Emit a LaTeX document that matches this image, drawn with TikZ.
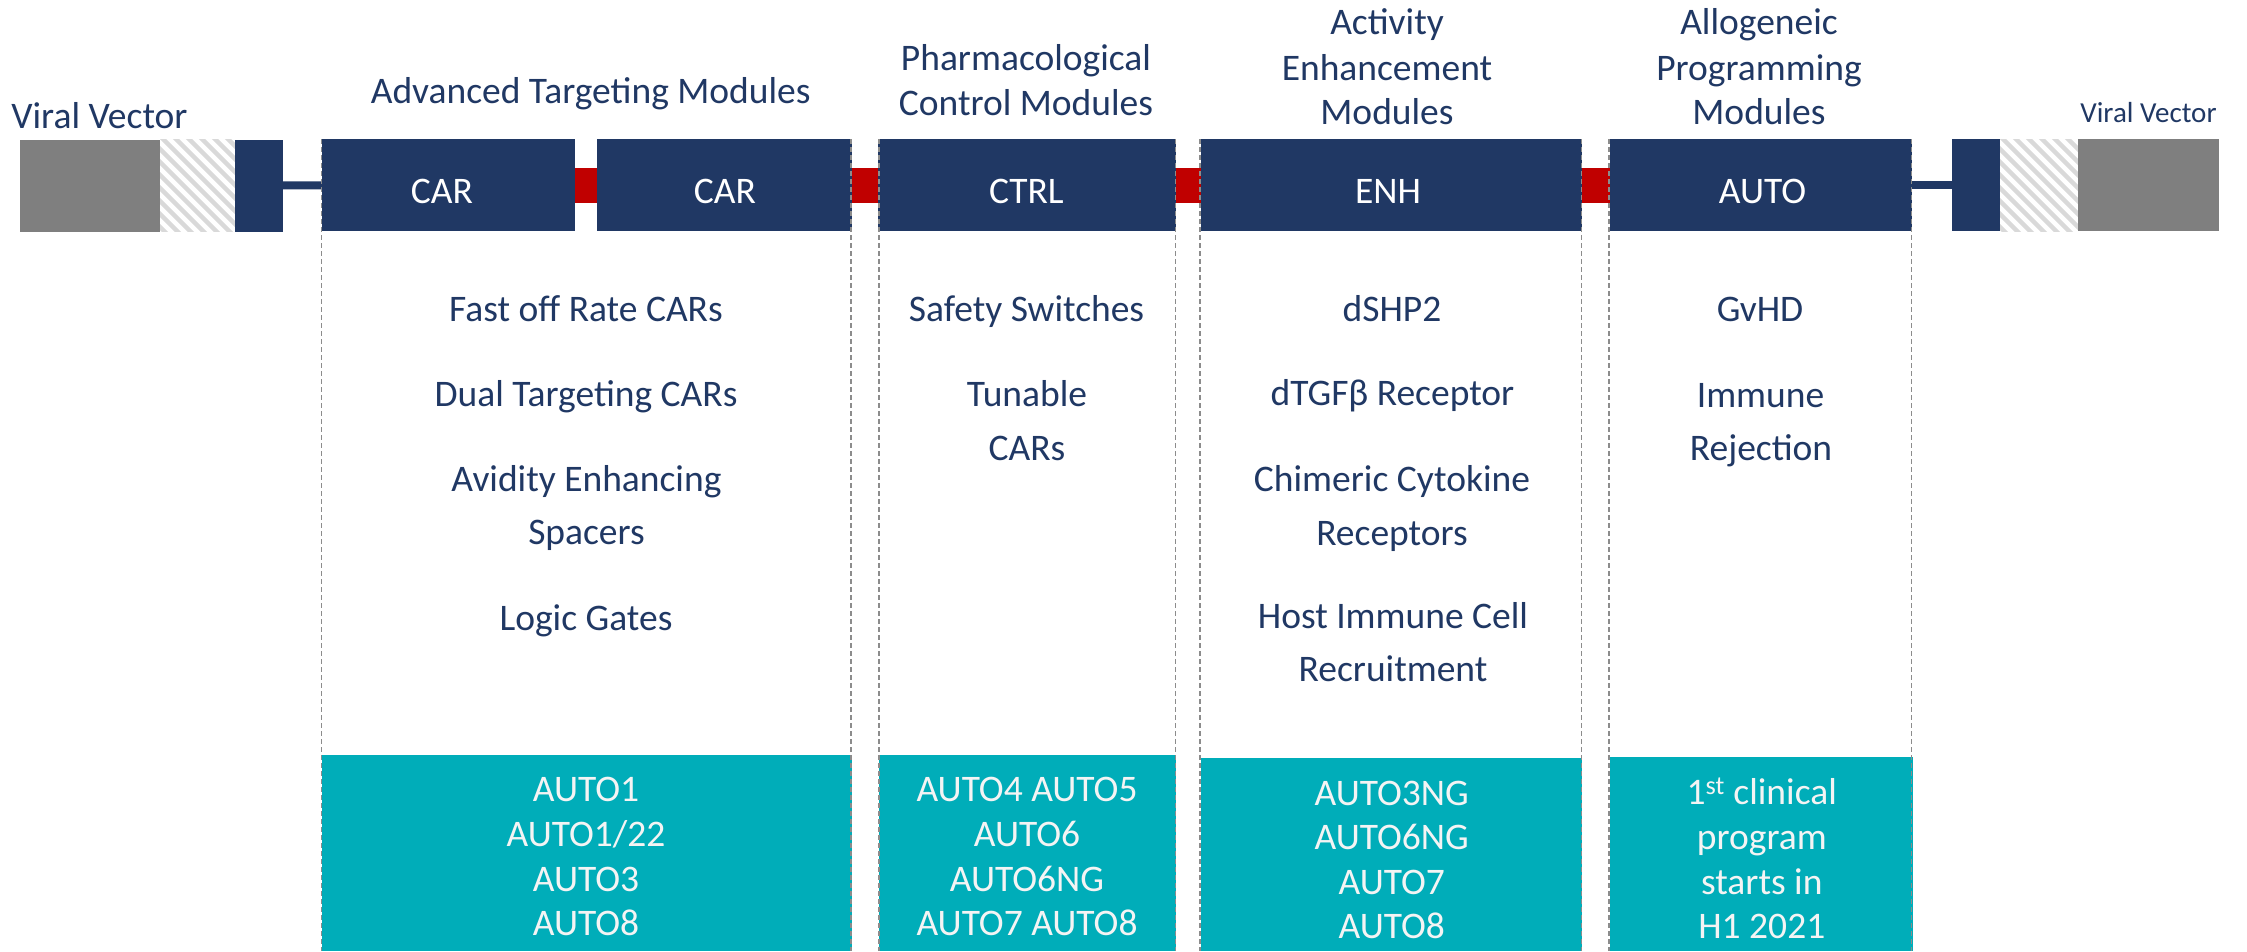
\documentclass[tikz,border=0pt]{standalone}
\usepackage{fontspec}
\setmainfont{Carlito}
\definecolor{navy}{HTML}{203864}
\definecolor{linkred}{HTML}{C00000}
\definecolor{vecgray}{HTML}{7F7F7F}
\definecolor{hatchgray}{HTML}{D9D9D9}
\definecolor{tealc}{HTML}{00ADB9}
\definecolor{dashgray}{HTML}{8C8C8C}
\definecolor{offwhite}{HTML}{F4F4F4}
\tikzset{
  blk/.style={inner sep=0pt, outer sep=0pt, minimum height=92pt},
  modbox/.style={blk, fill=navy},
  vecbox/.style={blk, fill=vecgray},
  hatchbox/.style={blk},
  redlink/.style={draw=linkred, line width=35pt},
  navylink/.style={draw=navy, line width=8pt},
  colline/.style={draw=dashgray, line width=1.4pt, dash pattern=on 5pt off 3pt},
  tealbox/.style={fill=tealc},
  hatchline/.style={draw=hatchgray, line width=4.5pt},
  txt/.style={anchor=base, inner sep=0pt, text=navy, font=\fontsize{37.5}{45}\selectfont},
  boxtxt/.style={txt, text=white},
  bottxt/.style={txt, text=offwhite},
  vectxt/.style={txt, font=\fontsize{37.5}{45}\selectfont},
  vectxtsmall/.style={txt, font=\fontsize{29}{35}\selectfont},
}
\begin{document}
\begin{tikzpicture}[x=1pt,y=-1pt]
\useasboundingbox[fill=white] (0,0) rectangle (2247,951);

% teal program boxes
\path[tealbox] (321.5,755) rectangle (852,951);
\path[tealbox] (879,755) rectangle (1175.5,951);
\path[tealbox] (1200.5,758) rectangle (1582,951);
\path[tealbox] (1609.5,757) rectangle (1912.5,951);

% left vector
\node[vecbox, minimum width=140pt] (lgray) at (90,185.5) {};
\node[hatchbox, minimum width=75pt] (lhatch) at (197.5,185.5) {};
\begin{scope}
  \clip (lhatch.north west) rectangle (lhatch.south east);
  \foreach \a in {40,53,...,250} \draw[hatchline] (\a,120) -- (\a+130,250);
\end{scope}
\node[modbox, minimum width=48pt] (lnavy) at (259,185.5) {};

% modules
\node[modbox, minimum width=253pt] (car1) at (448.5,185) {};
\node[modbox, minimum width=255pt] (car2) at (724.5,185) {};
\node[modbox, minimum width=297.5pt] (ctrl) at (1026.75,185) {};
\node[modbox, minimum width=381pt] (enh) at (1391.5,185) {};
\node[modbox, minimum width=302.5pt] (auto) at (1760.75,185) {};

% right vector
\node[modbox, minimum width=48pt] (rnavy) at (1976,185) {};
\node[hatchbox, minimum width=78pt] (rhatch) at (2039,185) {};
\begin{scope}
  \clip (rhatch.north west) rectangle (rhatch.south east);
  \foreach \a in {1880,1893,...,2090} \draw[hatchline] (\a,120) -- (\a+130,250);
\end{scope}
\node[vecbox, minimum width=141pt] (rgray) at (2148.5,185) {};

% connectors
\draw[navylink] (lnavy) -- (car1);
\draw[redlink] (car1) -- (car2);
\draw[redlink] (car2) -- (ctrl);
\draw[redlink] (ctrl) -- (enh);
\draw[redlink] (enh) -- (auto);
\draw[navylink] (auto) -- (rnavy);

% dashed column borders
\foreach \x in {321.5,851,879,1175.5,1200,1581.5,1609,1911.5}
  \draw[colline] (\x,139) -- (\x,951);

% box labels
\node[boxtxt] (car1t) at (442,203) {CAR};
\node[boxtxt] (car2t) at (725,203) {CAR};
\node[boxtxt] (ctrlt) at (1026.5,203) {CTRL};
\node[boxtxt] (enht) at (1388,203) {ENH};
\node[boxtxt] (autot) at (1762.5,203) {AUTO};

% titles
\node[vectxt] (lvv) at (99.5,128.6) {Viral Vector};
\node[vectxtsmall] (rvv) at (2148.5,122) {Viral Vector};
\node[txt] (h1) at (590.7,103.2) {Advanced Targeting Modules};
\node[txt] (h2a) at (1026,70.4) {Pharmacological};
\node[txt] (h2b) at (1026,115.1) {Control Modules};
\node[txt] (h3a) at (1387,34.9) {Activity};
\node[txt] (h3b) at (1387,80.1) {Enhancement};
\node[txt] (h3c) at (1387,124.8) {Modules};
\node[txt] (h4a) at (1759,34.9) {Allogeneic};
\node[txt] (h4b) at (1759,80.1) {Programming};
\node[txt] (h4c) at (1759,124.8) {Modules};

% column 1 items
\node[txt] (c1a) at (586,321) {Fast off Rate CARs};
\node[txt] (c1b) at (586,406.7) {Dual Targeting CARs};
\node[txt] (c1c) at (586.5,491) {Avidity Enhancing};
\node[txt] (c1d) at (586.5,544) {Spacers};
\node[txt] (c1e) at (586,630) {Logic Gates};
% column 2 items
\node[txt] (c2a) at (1026.5,321.7) {Safety Switches};
\node[txt] (c2b) at (1027,406.7) {Tunable};
\node[txt] (c2c) at (1027,460) {CARs};
% column 3 items
\node[txt] (c3a) at (1392,321.7) {dSHP2};
\node[txt] (c3b) at (1392.5,405.5) {dTGFβ Receptor};
\node[txt] (c3c) at (1392,491.7) {Chimeric Cytokine};
\node[txt] (c3d) at (1392,545.7) {Receptors};
\node[txt] (c3e) at (1393,628) {Host Immune Cell};
\node[txt] (c3f) at (1393,681.7) {Recruitment};
% column 4 items
\node[txt] (c4a) at (1760,321.7) {GvHD};
\node[txt] (c4b) at (1760.5,407.7) {Immune};
\node[txt] (c4c) at (1761,460) {Rejection};

% programs
\node[bottxt] (p1a) at (586,801.7) {AUTO1};
\node[bottxt] (p1b) at (586,846.7) {AUTO1/22};
\node[bottxt] (p1c) at (586,891.7) {AUTO3};
\node[bottxt] (p1d) at (586,935.7) {AUTO8};
\node[bottxt] (p2a) at (1027,801.7) {AUTO4 AUTO5};
\node[bottxt] (p2b) at (1027,846.7) {AUTO6};
\node[bottxt] (p2c) at (1027,891.7) {AUTO6NG};
\node[bottxt] (p2d) at (1027,935.7) {AUTO7 AUTO8};
\node[bottxt] (p3a) at (1391.7,805) {AUTO3NG};
\node[bottxt] (p3b) at (1391.7,849.3) {AUTO6NG};
\node[bottxt] (p3c) at (1391.7,894.3) {AUTO7};
\node[bottxt] (p3d) at (1391.7,938.3) {AUTO8};
\node[bottxt] (p4a) at (1761.8,804) {1\textsuperscript{st} clinical};
\node[bottxt] (p4b) at (1761.8,849) {program};
\node[bottxt] (p4c) at (1761.8,894) {starts in};
\node[bottxt] (p4d) at (1761.8,938) {H1 2021};
\end{tikzpicture}
\end{document}
